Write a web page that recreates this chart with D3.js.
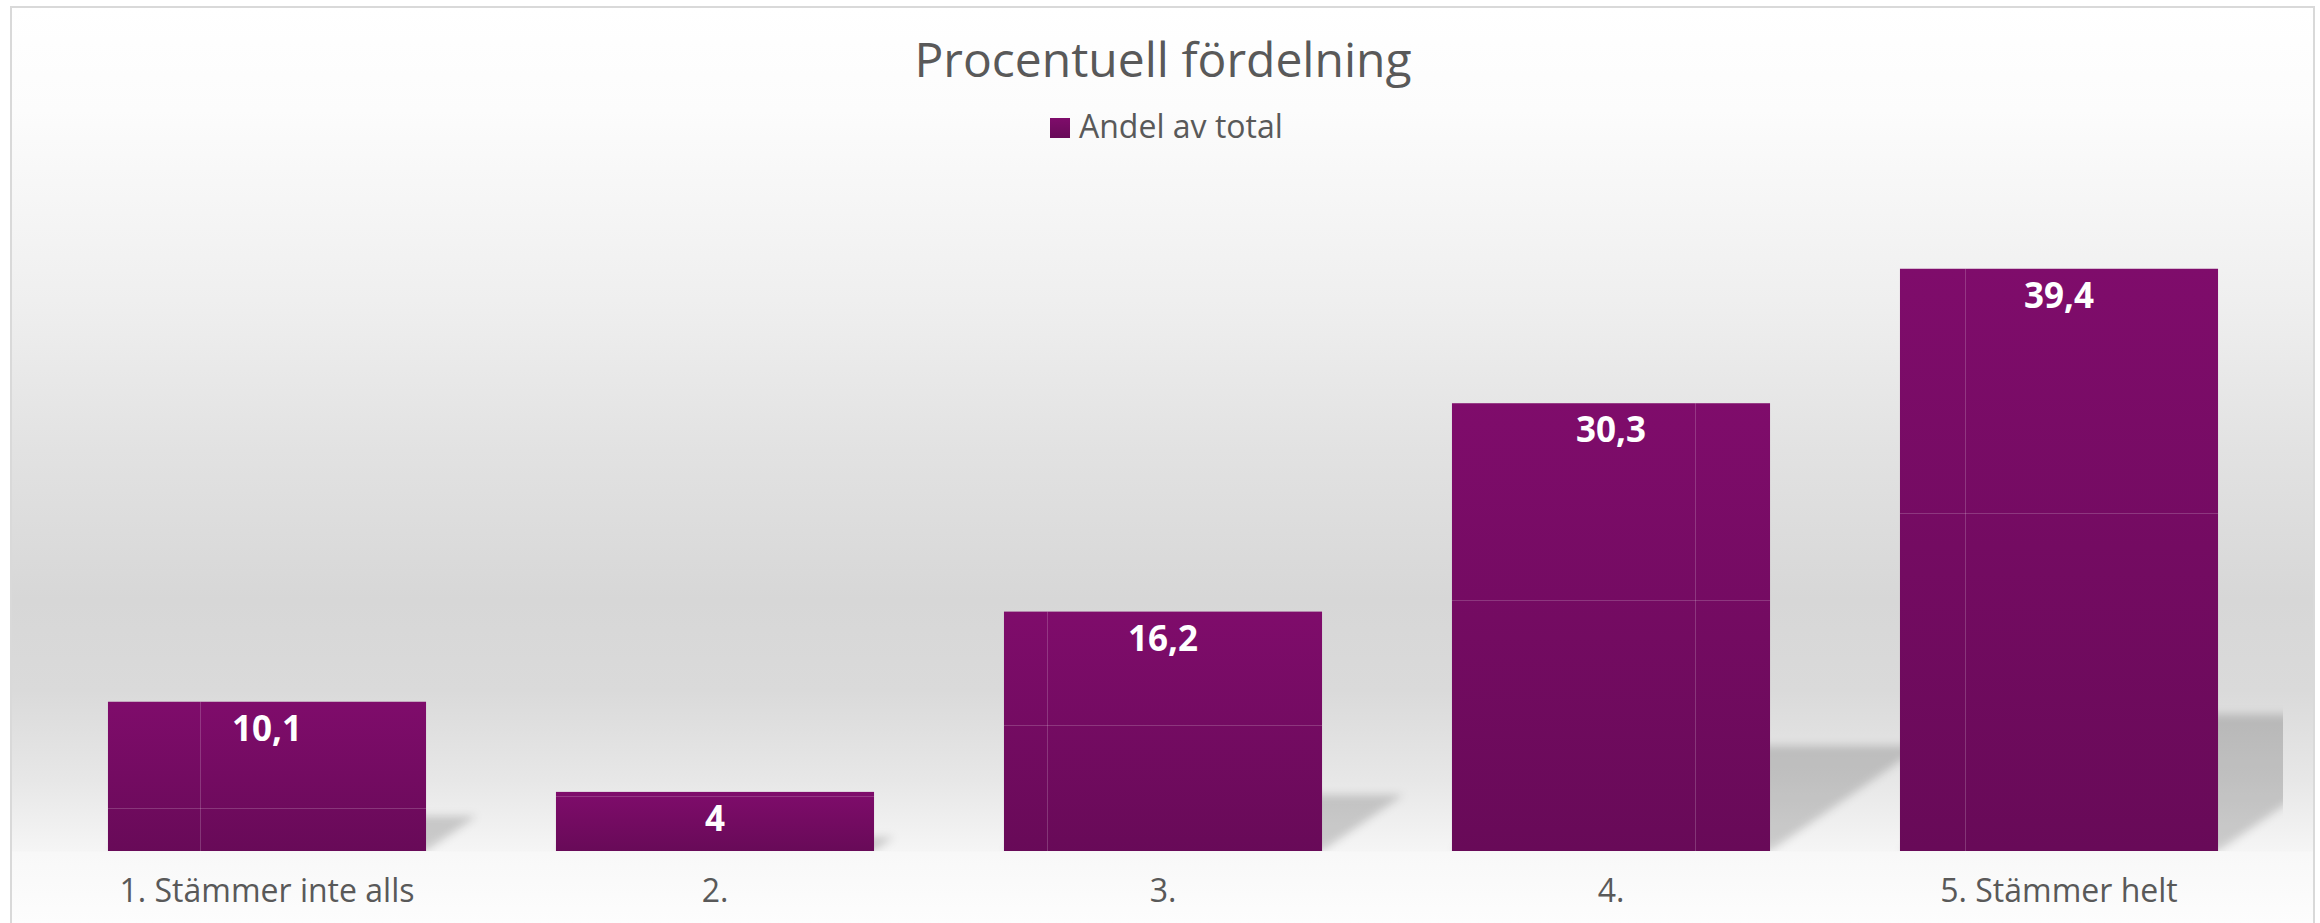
<!DOCTYPE html>
<html>
<head>
<meta charset="utf-8">
<script src="https://cdn.jsdelivr.net/npm/d3@7"></script>
<style>
  html, body { margin: 0; padding: 0; background: #ffffff; }
  svg { display: block; font-family: "Open Sans", "Noto Sans", sans-serif; }
</style>
</head>
<body>
<script>
// ---- data ----
const categories = ["1. Stämmer inte alls", "2.", "3.", "4.", "5. Stämmer helt"];
const values = [10.1, 4, 16.2, 30.3, 39.4];
const valueLabels = ["10,1", "4", "16,2", "30,3", "39,4"];
const seriesName = "Andel av total";
const chartTitle = "Procentuell fördelning";
// faint rendering seams visible on each bar (fraction of width / fraction of height from top)
const seamX = [0.29, null, 0.135, 0.764, 0.205];
const seamY = [0.71, 0.07, 0.475, 0.44, 0.42];

const W = 2320, H = 923;
const svg = d3.select("body").append("svg").attr("width", W).attr("height", H);
const defs = svg.append("defs");

// background gradient
const bg = defs.append("linearGradient").attr("id", "bgGrad")
  .attr("gradientUnits", "userSpaceOnUse").attr("x1", 0).attr("y1", 7).attr("x2", 0).attr("y2", 923);
[[7, "#ffffff"], [110, "#fcfcfc"], [300, "#efefef"], [450, "#e2e2e2"], [600, "#d7d7d7"],
 [690, "#dadada"], [780, "#e7e7e7"], [851, "#f5f5f5"], [852, "#f8f8f8"], [923, "#fdfdfd"]]
  .forEach(([y, c]) => bg.append("stop").attr("offset", ((y - 7) / 916 * 100) + "%").attr("stop-color", c));

// bar gradient
const bgr = defs.append("linearGradient").attr("id", "barGrad").attr("x1", 0).attr("y1", 0).attr("x2", 0).attr("y2", 1);
bgr.append("stop").attr("offset", "0%").attr("stop-color", "#7f0c6b");
bgr.append("stop").attr("offset", "100%").attr("stop-color", "#680a58");

// shadow blur
defs.append("filter").attr("id", "blur").attr("x", "-20%").attr("y", "-20%").attr("width", "140%").attr("height", "140%")
  .append("feGaussianBlur").attr("stdDeviation", 4);

// clip for plot area
defs.append("clipPath").attr("id", "plotClip").append("rect")
  .attr("x", 20).attr("y", 150).attr("width", 2263).attr("height", 701);

// frame
svg.append("rect").attr("x", 11).attr("y", 7).attr("width", 2303).attr("height", 930)
  .attr("fill", "url(#bgGrad)").attr("stroke", "#d9d9d9").attr("stroke-width", 2);

// title
svg.append("text").attr("x", 1163).attr("y", 77).attr("text-anchor", "middle")
  .attr("font-size", 48).attr("fill", "#595959").text(chartTitle);

// legend
svg.append("rect").attr("x", 1050).attr("y", 118).attr("width", 20).attr("height", 20).attr("fill", "url(#barGrad)");
svg.append("text").attr("x", 1079).attr("y", 138).attr("font-size", 32).attr("fill", "#595959").text(seriesName);

// scales
const x = d3.scaleBand().domain(categories).range([43, 2283]).paddingInner(0.29).paddingOuter(0.145);
const y = d3.scaleLinear().domain([0, 45]).range([851, 186]);
const data = categories.map((c, i) => ({ c, v: values[i], label: valueLabels[i], sx: seamX[i], sy: seamY[i] }));

// shadows
const sh = svg.append("g").attr("clip-path", "url(#plotClip)")
  .append("g").attr("filter", "url(#blur)");
sh.selectAll("polygon").data(data).join("polygon")
  .attr("points", d => {
    const xl = x(d.c), xr = x(d.c) + x.bandwidth(), b = y(0), h = y(0) - y(d.v);
    const dx = 0.34 * h, dy = 0.235 * h;
    return [[xl, b], [xr, b], [xr + dx, b - dy], [xl + dx, b - dy]].map(p => p.join(",")).join(" ");
  })
  .attr("fill", "#000").attr("fill-opacity", 0.17);

// bars
svg.append("g").selectAll("rect").data(data).join("rect")
  .attr("x", d => x(d.c)).attr("y", d => y(d.v))
  .attr("width", x.bandwidth()).attr("height", d => y(0) - y(d.v))
  .attr("fill", "url(#barGrad)");

// seams
const seams = svg.append("g").attr("stroke", "#ffffff").attr("stroke-opacity", 0.18).attr("stroke-width", 1);
data.forEach(d => {
  const xl = x(d.c), top = y(d.v), h = y(0) - y(d.v);
  if (d.sx != null) seams.append("line")
    .attr("x1", Math.round(xl + d.sx * x.bandwidth()) + 0.5).attr("x2", Math.round(xl + d.sx * x.bandwidth()) + 0.5)
    .attr("y1", top).attr("y2", y(0));
  if (d.sy != null) seams.append("line")
    .attr("x1", xl).attr("x2", xl + x.bandwidth())
    .attr("y1", Math.round(top + d.sy * h) + 0.5).attr("y2", Math.round(top + d.sy * h) + 0.5);
});

// value labels
svg.append("g").selectAll("text").data(data).join("text")
  .attr("x", d => x(d.c) + x.bandwidth() / 2).attr("y", d => y(d.v) + 39)
  .attr("text-anchor", "middle").attr("font-size", 35).attr("font-weight", 700).attr("fill", "#ffffff")
  .text(d => d.label);

// x axis
const ax = svg.append("g").attr("transform", `translate(0,${y(0)})`)
  .call(d3.axisBottom(x).tickSize(0).tickPadding(0));
ax.select(".domain").remove();
ax.selectAll("text").attr("font-size", 32).attr("fill", "#595959")
  .attr("font-family", "\"Open Sans\", sans-serif").attr("dy", null).attr("y", 51);
</script>
</body>
</html>
